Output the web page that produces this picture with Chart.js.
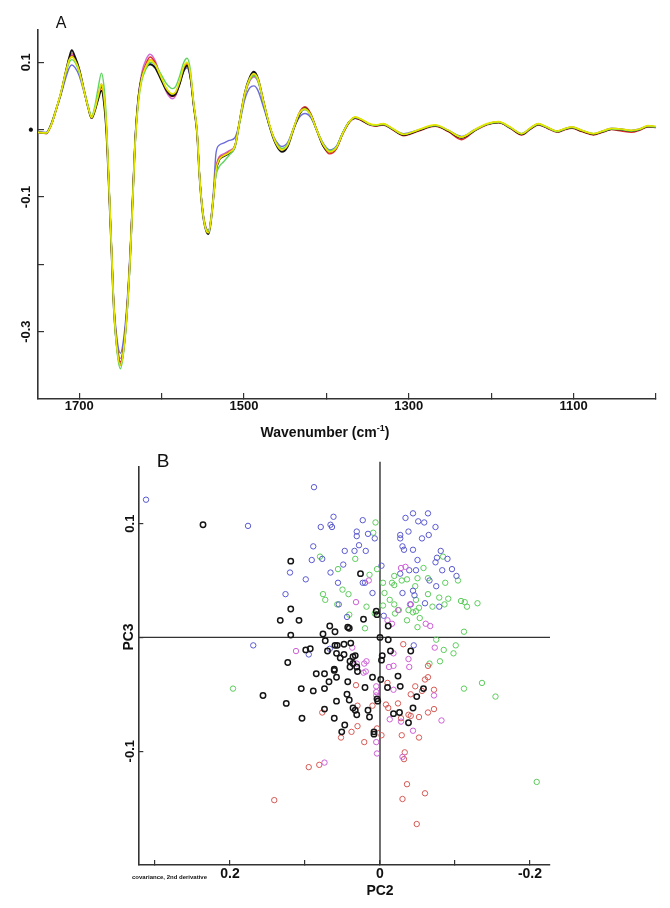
<!DOCTYPE html>
<html><head><meta charset="utf-8">
<script src="https://cdn.jsdelivr.net/npm/chart.js@4/dist/chart.umd.min.js"></script>
<style>
html,body{margin:0;padding:0;background:#fff;}
body{width:670px;height:908px;position:relative;overflow:hidden;}
#ca{position:absolute;left:0;top:0;}
#cb{position:absolute;left:0;top:440px;}
</style></head><body>
<canvas id="ca" width="670" height="440" style="width:670px;height:440px"></canvas>
<canvas id="cb" width="670" height="468" style="width:670px;height:468px"></canvas>
<script>
// ---------- Panel A data ----------
const wavenumbers = [
1750,1740,1734,1728,1722,1716,1712,1709,1705,1700,
1694,1689,1685,1681,1677,1673,1670,1667,1664,1661,
1658,1654,1650,1646,1642,1638,1635,1632,1628,1624,
1619,1614,1608,1601,1595,1590,1587,1583,1578,1573,
1569,1565,1561,1557,1554,1550,1546,1543,1540,1537,
1534,1530,1525,1518,1511,1505,1499,1493,1488,1483,
1476,1469,1462,1454,1447,1440,1433,1426,1419,1412,
1404,1396,1388,1380,1372,1365,1357,1348,1340,1331,
1320,1306,1290,1268,1252,1236,1220,1205,1191,1177,
1163,1153,1143,1132,1120,1110,1102,1090,1076,1065,
1054,1042,1030,1020,1010,1000];

const spectrumBlack = [
-0.004,-0.005,0.008,0.030,0.055,0.088,0.108,0.118,0.108,0.090,
0.058,0.032,0.017,0.028,0.045,0.058,0.040,-0.005,-0.085,-0.175,
-0.265,-0.325,-0.350,-0.325,-0.270,-0.185,-0.100,-0.015,0.050,0.078,
0.092,0.097,0.092,0.075,0.060,0.052,0.050,0.053,0.068,0.088,
0.095,0.078,0.035,-0.005,-0.070,-0.125,-0.150,-0.155,-0.135,-0.100,
-0.062,-0.045,-0.040,-0.035,-0.025,0.015,0.055,0.078,0.086,0.076,
0.040,0.005,-0.020,-0.033,-0.025,0.000,0.022,0.032,0.022,0.000,
-0.024,-0.033,-0.027,-0.005,0.012,0.018,0.014,0.008,0.006,0.008,
0.001,-0.008,-0.002,0.006,-0.002,-0.012,-0.001,0.008,0.011,0.003,
-0.007,0.001,0.008,0.003,-0.003,0.001,0.003,-0.002,-0.007,-0.003,
0.001,0.000,-0.002,0.000,0.005,0.004];

const spectrumBlue = [
-0.003,-0.004,0.008,0.030,0.052,0.078,0.092,0.096,0.092,0.080,
0.055,0.033,0.018,0.030,0.050,0.066,0.050,0.005,-0.075,-0.165,
-0.255,-0.312,-0.332,-0.310,-0.258,-0.175,-0.095,-0.010,0.050,0.078,
0.092,0.098,0.093,0.077,0.062,0.054,0.052,0.055,0.070,0.087,
0.092,0.075,0.035,-0.003,-0.065,-0.120,-0.146,-0.150,-0.130,-0.090,
-0.035,-0.023,-0.020,-0.016,-0.012,0.012,0.045,0.062,0.065,0.058,
0.032,0.005,-0.015,-0.025,-0.019,0.001,0.018,0.024,0.018,0.000,
-0.020,-0.030,-0.025,-0.004,0.012,0.017,0.014,0.008,0.006,0.008,
0.001,-0.006,-0.001,0.006,-0.001,-0.010,0.000,0.008,0.011,0.003,
-0.006,0.002,0.008,0.003,-0.002,0.002,0.004,-0.001,-0.006,-0.002,
0.002,0.001,-0.001,0.001,0.005,0.004];

const spectrumGreen = [
-0.004,-0.005,0.007,0.030,0.055,0.085,0.100,0.104,0.100,0.085,
0.058,0.035,0.020,0.035,0.062,0.084,0.065,0.015,-0.075,-0.170,
-0.265,-0.330,-0.355,-0.330,-0.275,-0.190,-0.105,-0.020,0.042,0.073,
0.090,0.100,0.097,0.083,0.070,0.063,0.061,0.064,0.080,0.100,
0.106,0.088,0.040,0.000,-0.068,-0.122,-0.148,-0.150,-0.132,-0.100,
-0.068,-0.055,-0.048,-0.038,-0.026,0.012,0.052,0.074,0.080,0.072,
0.038,0.006,-0.017,-0.028,-0.021,0.002,0.024,0.030,0.021,0.001,
-0.021,-0.031,-0.026,-0.004,0.012,0.018,0.015,0.008,0.006,0.008,
0.001,-0.007,-0.001,0.006,-0.001,-0.011,-0.001,0.008,0.011,0.003,
-0.006,0.001,0.008,0.003,-0.003,0.001,0.003,-0.001,-0.006,-0.003,
0.001,0.000,-0.002,0.000,0.005,0.004];

const spectrumRed = [
-0.004,-0.006,0.006,0.029,0.055,0.086,0.104,0.110,0.104,0.088,
0.057,0.032,0.017,0.028,0.047,0.063,0.045,0.000,-0.082,-0.172,
-0.262,-0.322,-0.345,-0.322,-0.268,-0.183,-0.100,-0.015,0.048,0.080,
0.098,0.108,0.100,0.078,0.060,0.051,0.049,0.052,0.070,0.092,
0.098,0.080,0.036,-0.004,-0.068,-0.123,-0.148,-0.152,-0.133,-0.098,
-0.058,-0.042,-0.038,-0.033,-0.024,0.014,0.053,0.074,0.080,0.073,
0.039,0.006,-0.018,-0.029,-0.022,0.002,0.025,0.034,0.024,0.001,
-0.024,-0.036,-0.029,-0.006,0.011,0.017,0.013,0.007,0.005,0.007,
0.000,-0.009,-0.003,0.005,-0.003,-0.015,-0.002,0.007,0.010,0.002,
-0.008,0.000,0.007,0.002,-0.004,0.000,0.002,-0.003,-0.008,-0.004,
0.000,-0.002,-0.004,-0.001,0.004,0.003];

const spectrumMagenta = [
-0.004,-0.005,0.007,0.030,0.055,0.086,0.106,0.112,0.106,0.090,
0.058,0.033,0.018,0.030,0.050,0.068,0.050,0.003,-0.080,-0.170,
-0.258,-0.318,-0.340,-0.318,-0.265,-0.180,-0.098,-0.012,0.052,0.085,
0.104,0.112,0.103,0.078,0.058,0.048,0.046,0.050,0.068,0.088,
0.093,0.076,0.034,-0.004,-0.067,-0.121,-0.146,-0.150,-0.131,-0.096,
-0.056,-0.040,-0.036,-0.031,-0.023,0.014,0.052,0.072,0.078,0.071,
0.038,0.006,-0.018,-0.030,-0.023,0.001,0.023,0.030,0.022,0.000,
-0.022,-0.033,-0.027,-0.005,0.012,0.017,0.014,0.008,0.006,0.008,
0.001,-0.008,-0.002,0.006,-0.002,-0.012,-0.001,0.008,0.011,0.003,
-0.007,0.001,0.008,0.003,-0.003,0.001,0.003,-0.002,-0.007,-0.003,
0.001,0.000,-0.002,0.000,0.005,0.004];

const spectrumOrange = [
-0.004,-0.005,0.007,0.030,0.056,0.088,0.107,0.113,0.106,0.089,
0.057,0.032,0.017,0.029,0.048,0.064,0.046,0.001,-0.082,-0.172,
-0.262,-0.323,-0.347,-0.323,-0.268,-0.183,-0.101,-0.016,0.047,0.078,
0.096,0.104,0.098,0.078,0.061,0.053,0.051,0.054,0.070,0.092,
0.098,0.080,0.036,-0.004,-0.069,-0.124,-0.149,-0.153,-0.134,-0.099,
-0.060,-0.043,-0.039,-0.034,-0.024,0.015,0.054,0.075,0.082,0.074,
0.040,0.007,-0.018,-0.030,-0.023,0.001,0.023,0.031,0.022,0.000,
-0.022,-0.033,-0.027,-0.005,0.012,0.018,0.014,0.008,0.006,0.008,
0.001,-0.008,-0.002,0.006,-0.002,-0.012,-0.001,0.008,0.011,0.003,
-0.007,0.001,0.008,0.003,-0.003,0.001,0.003,-0.002,-0.007,-0.003,
0.001,0.000,-0.002,0.000,0.005,0.004];

const spectrumYellow = [
-0.004,-0.005,0.007,0.030,0.056,0.087,0.104,0.108,0.103,0.088,
0.057,0.032,0.018,0.030,0.050,0.068,0.050,0.004,-0.080,-0.170,
-0.262,-0.325,-0.350,-0.325,-0.270,-0.184,-0.102,-0.017,0.046,0.077,
0.094,0.103,0.097,0.079,0.063,0.055,0.053,0.056,0.072,0.094,
0.100,0.082,0.037,-0.003,-0.068,-0.123,-0.149,-0.153,-0.134,-0.099,
-0.060,-0.044,-0.039,-0.034,-0.024,0.015,0.054,0.076,0.083,0.075,
0.040,0.007,-0.018,-0.030,-0.023,0.001,0.024,0.031,0.022,0.000,
-0.022,-0.033,-0.027,-0.005,0.012,0.019,0.015,0.009,0.007,0.009,
0.002,-0.007,-0.001,0.007,-0.001,-0.011,0.000,0.009,0.012,0.004,
-0.006,0.002,0.009,0.004,-0.002,0.002,0.004,-0.001,-0.006,-0.002,
0.002,0.001,-0.001,0.001,0.006,0.005];

const xTicksA = [1700,1600,1500,1400,1300,1200,1100,1000];
const xTickLabelsA = ['1700','','1500','','1300','','1100',''];
const yTicksA = [0.1,0,-0.1,-0.2,-0.3];
const yTickLabelsA = ['0.1','\u2022','-0.1','','-0.3'];

// ---------- Panel B data (PC2, PC3 scores) ----------
const blackPC2 = [0.236,0.119,0.119,0.133,0.108,0.067,0.060,0.076,0.119,0.043,0.041,0.026,0.005,0.004,0.022,-0.011,0.093,0.099,0.073,0.070,0.123,0.058,0.060,0.057,0.048,0.039,0.053,0.048,0.040,0.036,0.033,0.061,0.061,0.040,0.036,0.031,0.030,0.085,0.074,0.058,0.068,0.043,0.105,0.089,0.074,0.156,0.125,0.058,0.044,0.041,0.074,0.036,0.033,0.031,0.104,0.061,0.047,0.051,-0.011,-0.014,-0.003,-0.002,-0.041,-0.001,-0.024,-0.027,-0.010,0.010,0.020,0.004,0.003,-0.058,-0.049,-0.044,-0.018,-0.026,-0.038,0.016,0.014,0.008,0.008,0];
const blackPC3 = [0.099,0.067,0.025,0.015,0.015,0.010,0.005,0.003,0.002,0.009,0.008,0.056,0.023,0.020,0.016,0.010,-0.010,-0.011,-0.003,-0.012,-0.022,-0.014,-0.007,-0.007,-0.006,-0.005,-0.018,-0.015,-0.021,-0.017,-0.016,-0.028,-0.029,-0.026,-0.023,-0.026,-0.030,-0.032,-0.032,-0.035,-0.039,-0.039,-0.045,-0.047,-0.045,-0.051,-0.058,-0.056,-0.050,-0.055,-0.063,-0.062,-0.064,-0.068,-0.071,-0.071,-0.077,-0.083,-0.002,-0.012,-0.016,-0.020,-0.012,-0.037,-0.034,-0.043,-0.044,-0.035,-0.044,-0.054,-0.056,-0.045,-0.052,-0.062,-0.067,-0.066,-0.075,-0.064,-0.070,-0.083,-0.085,0];

const bluePC2 = [0.312,0.176,0.088,0.062,0.079,0.066,0.064,0.089,0.091,0.077,0.120,0.099,0.126,0.066,0.056,0.049,0.047,0.034,0.028,0.031,0.031,0.044,0.055,0.016,0.007,0.023,0.019,0.023,0.020,0.010,-0.002,-0.027,-0.027,-0.034,-0.044,-0.064,-0.051,-0.059,-0.074,-0.038,-0.065,-0.056,-0.030,-0.032,-0.044,-0.081,-0.076,-0.074,-0.090,-0.050,-0.039,-0.048,-0.027,-0.083,-0.096,-0.102,-0.066,-0.075,-0.030,-0.044,-0.046,-0.041,-0.060,-0.079,-0.005,0.169,0.095,0.067,-0.045];
const bluePC3 = [0.121,0.098,0.132,0.106,0.097,0.099,0.097,0.080,0.068,0.069,0.057,0.051,0.038,0.057,0.048,0.064,0.076,0.076,0.081,0.093,0.089,0.018,0.029,0.091,0.087,0.103,0.076,0.048,0.048,0.039,0.063,0.090,0.087,0.105,0.109,0.109,0.102,0.101,0.097,0.093,0.090,0.087,0.080,0.077,0.077,0.076,0.070,0.066,0.069,0.068,0.059,0.059,0.056,0.059,0.060,0.054,0.050,0.045,0.039,0.041,0.037,0.029,0.030,0.027,0.019,-0.007,-0.015,-0.010,-0.007];

const greenPC2 = [0.080,0.033,0.056,0.050,0.042,0.076,0.073,0.057,0.041,0.009,0.006,0.014,0.018,0.007,0.004,-0.084,-0.058,-0.019,-0.029,-0.004,-0.016,-0.019,-0.036,-0.050,-0.064,-0.087,-0.104,-0.047,-0.006,-0.064,-0.079,-0.091,-0.108,-0.113,-0.116,-0.130,-0.086,-0.070,-0.013,-0.019,-0.004,-0.038,-0.044,-0.048,-0.052,-0.053,-0.036,-0.020,-0.024,-0.050,-0.112,-0.048,0.020,0.196,-0.085,-0.101,-0.098,-0.080,-0.066,-0.075,-0.136,-0.112,-0.154,-0.209];
const greenPC3 = [0.071,0.069,0.060,0.042,0.038,0.038,0.033,0.029,0.020,0.092,0.101,0.055,0.027,0.021,0.060,0.071,0.061,0.054,0.050,0.048,0.048,0.046,0.051,0.052,0.052,0.048,0.050,0.045,0.039,0.038,0.035,0.034,0.032,0.031,0.027,0.030,0.029,0.027,0.033,0.029,0.028,0.024,0.022,0.023,0.026,0.017,0.015,0.021,0.024,0.009,0.005,0.033,0.008,-0.045,-0.011,-0.007,-0.014,-0.021,-0.023,-0.002,-0.040,-0.045,-0.052,-0.127];

const magentaPC2 = [0.032,0.015,-0.028,-0.034,-0.040,-0.025,-0.061,-0.067,-0.016,-0.010,0.112,0.037,0.031,0.074,-0.073,-0.018,-0.038,-0.039,-0.012,-0.018,0.018,0.021,0.022,0.019,0.005,0.005,0.005,-0.018,-0.072,-0.013,-0.028,-0.044,-0.082,0.005,0.004,-0.030];
const magentaPC3 = [0.031,0.050,0.061,0.062,0.029,0.024,0.012,0.010,0.012,0.015,-0.012,-0.009,-0.023,-0.110,-0.009,-0.014,-0.019,-0.026,-0.026,-0.025,-0.021,-0.023,-0.031,-0.030,-0.043,-0.048,-0.051,-0.046,-0.051,-0.072,-0.074,-0.082,-0.073,-0.092,-0.102,-0.105];

const redPC2 = [0.032,0.030,0.077,0.030,0.038,0.052,0.141,0.095,0.081,-0.031,-0.064,-0.010,-0.060,-0.064,-0.047,-0.041,-0.056,-0.072,-0.008,-0.011,0.010,-0.024,-0.072,-0.064,-0.028,-0.038,-0.041,-0.052,0.004,-0.002,-0.029,-0.052,0.021,-0.033,-0.036,-0.060,-0.030,-0.049,-0.032];
const redPC3 = [-0.042,-0.060,-0.066,-0.078,-0.083,-0.088,-0.143,-0.114,-0.112,-0.006,-0.025,-0.040,-0.037,-0.035,-0.043,-0.050,-0.047,-0.046,-0.059,-0.062,-0.060,-0.058,-0.063,-0.066,-0.071,-0.068,-0.069,-0.070,-0.080,-0.086,-0.086,-0.088,-0.092,-0.101,-0.129,-0.137,-0.142,-0.164,-0.107];

const xTicksB = [0.3,0.2,0.1,0,-0.1,-0.2];
const xTickLabelsB = ['','0.2','','0','','-0.2'];
const yTicksB = [0.1,0,-0.1];
const yTickLabelsB = ['0.1','','-0.1'];

const panelLetters = ['A','B'];
const FONT = "'Liberation Sans', Arial, Helvetica, sans-serif";
const AXIS = '#333';

// ---------- Panel A ----------
const specSeries = [
  {data: spectrumYellow, color:'#e6e600', w:1.7},
  {data: spectrumGreen, color:'#5fd45f', w:1.4},
  {data: spectrumBlack, color:'#111111', w:1.8},
  {data: spectrumRed, color:'#e02a2a', w:1.4},
  {data: spectrumBlue, color:'#6b6bdc', w:1.4},
  {data: spectrumMagenta, color:'#cf6ad9', w:1.4},
  {data: spectrumOrange, color:'#ff9a1a', w:1.4}
];

function rotLabels(chart, ticksLabels, baseX, font){
  const ctx = chart.ctx, y = chart.scales.y;
  y.ticks.forEach((t,i)=>{
    const lab = ticksLabels[i]; if(!lab) return;
    const py = y.getPixelForValue(t.value);
    ctx.save();
    if(lab === '\u2022'){ ctx.font = 'bold 15px '+FONT; ctx.textBaseline='middle'; ctx.translate(baseX+1.5, py); }
    else { ctx.font = font; ctx.textBaseline='alphabetic'; ctx.translate(baseX, py); }
    ctx.rotate(-Math.PI/2);
    ctx.textAlign='center';
    ctx.fillStyle='#111';
    ctx.fillText(lab,0,0);
    ctx.restore();
  });
}

const textA = {
  id:'textA',
  afterDraw(chart){
    const ctx = chart.ctx;
    rotLabels(chart, yTickLabelsA, 30, 'bold 13px '+FONT);
    ctx.save();
    ctx.fillStyle='#111';
    ctx.font='16px '+FONT; ctx.textAlign='center'; ctx.textBaseline='middle';
    ctx.fillText(panelLetters[0], 61, 24);
    const main='Wavenumber (cm', sup='-1', end=')';
    ctx.font='bold 14px '+FONT;
    const w1=ctx.measureText(main).width, w3=ctx.measureText(end).width;
    ctx.font='bold 9px '+FONT;
    const w2=ctx.measureText(sup).width;
    let x = 325 - (w1+w2+w3)/2, base = 436.5;
    ctx.textAlign='left'; ctx.textBaseline='alphabetic';
    ctx.font='bold 14px '+FONT; ctx.fillText(main, x, base); x+=w1;
    ctx.font='bold 9px '+FONT; ctx.fillText(sup, x, base-6); x+=w2;
    ctx.font='bold 14px '+FONT; ctx.fillText(end, x, base);
    ctx.restore();
  }
};

new Chart(document.getElementById('ca'), {
  type:'line',
  data:{ datasets: specSeries.map(s=>({
    data: wavenumbers.map((w,i)=>({x:w, y:s.data[i]})),
    borderColor:s.color, borderWidth:s.w, pointRadius:0, fill:false,
    cubicInterpolationMode:'monotone'
  }))},
  options:{
    responsive:false, devicePixelRatio:1, animation:false, events:[],
    layout:{padding:{top:30,right:14,left:0,bottom:0}},
    plugins:{legend:{display:false}, tooltip:{enabled:false}},
    scales:{
      x:{type:'linear', reverse:true, min:1000, max:1750,
        afterBuildTicks:s=>{ s.ticks = xTicksA.map(v=>({value:v})); },
        afterFit:s=>{ s.height = 41; },
        border:{display:true, color:AXIS, width:1.6},
        grid:{drawOnChartArea:false, drawTicks:true, tickLength:-6, color:AXIS, lineWidth:1.2},
        ticks:{autoSkip:false, maxRotation:0, minRotation:0, padding:6, color:'#111',
          font:{family:FONT, size:13, weight:'bold'},
          callback:(v,i)=>xTickLabelsA[i]}
      },
      y:{type:'linear', min:-0.4, max:0.148,
        afterBuildTicks:s=>{ s.ticks = yTicksA.map(v=>({value:v})); },
        afterFit:s=>{ s.width = 38; },
        border:{display:true, color:AXIS, width:1.6},
        grid:{drawOnChartArea:false, drawTicks:true, tickLength:-6, color:AXIS, lineWidth:1.2},
        ticks:{display:false}
      }
    }
  },
  plugins:[textA]
});

// ---------- Panel B ----------
const textB = {
  id:'textB',
  beforeDatasetsDraw(chart){
    const {ctx, chartArea:a, scales:{x,y}} = chart;
    const x0=x.getPixelForValue(0), y0=y.getPixelForValue(0);
    ctx.save(); ctx.strokeStyle='#333'; ctx.lineWidth=1.4;
    ctx.beginPath(); ctx.moveTo(a.left,y0); ctx.lineTo(a.right,y0);
    ctx.moveTo(x0,a.top-5); ctx.lineTo(x0,a.bottom); ctx.stroke(); ctx.restore();
  },
  afterDraw(chart){
    const ctx = chart.ctx;
    rotLabels(chart, yTickLabelsB, 133.5, 'bold 13px '+FONT);
    ctx.save(); ctx.fillStyle='#111';
    ctx.font='19px '+FONT; ctx.textAlign='center'; ctx.textBaseline='middle';
    ctx.fillText(panelLetters[1], 163, 22);
    ctx.font='bold 14px '+FONT; ctx.textBaseline='middle';
    ctx.fillText('PC2', 380, 451);
    ctx.save(); ctx.translate(133,197); ctx.rotate(-Math.PI/2); ctx.textBaseline='alphabetic';
    ctx.fillText('PC3',0,0); ctx.restore();
    ctx.font='bold 6px '+FONT; ctx.textAlign='center';
    ctx.fillText('covariance, 2nd derivative', 169.5, 437.7);
    ctx.restore();
  }
};

function grp(p2,p3){ return p2.map((v,i)=>({x:v, y:p3[i]})); }
const groups = [
  {d:grp(blackPC2,blackPC3), c:'#151515', w:1.5},
  {d:grp(magentaPC2,magentaPC3), c:'#cf5fd8', w:1},
  {d:grp(redPC2,redPC3), c:'#d65a55', w:1},
  {d:grp(bluePC2,bluePC3), c:'#5a5ad0', w:1},
  {d:grp(greenPC2,greenPC3), c:'#5ccc5c', w:1}
];

new Chart(document.getElementById('cb'), {
  type:'scatter',
  data:{ datasets: groups.map(g=>({data:g.d, borderColor:g.c, backgroundColor:'rgba(0,0,0,0)',
    pointRadius:2.7, pointBorderWidth:g.w, pointStyle:'circle'})) },
  options:{
    responsive:false, devicePixelRatio:1, animation:false, events:[],
    layout:{padding:{top:26.7,right:120,left:0,bottom:0}},
    plugins:{legend:{display:false}, tooltip:{enabled:false}},
    scales:{
      x:{type:'linear', reverse:true, min:-0.2267, max:0.3223,
        afterBuildTicks:s=>{ s.ticks = xTicksB.map(v=>({value:v})); },
        afterFit:s=>{ s.height = 43; },
        border:{display:true, color:AXIS, width:1.6},
        grid:{drawOnChartArea:false, drawTicks:true, tickLength:-5, color:AXIS, lineWidth:1.2},
        ticks:{autoSkip:false, maxRotation:0, minRotation:0, padding:6, color:'#111',
          font:{family:FONT, size:14, weight:'bold'},
          callback:(v,i)=>xTickLabelsB[i]}
      },
      y:{type:'linear', min:-0.2, max:0.15,
        afterBuildTicks:s=>{ s.ticks = yTicksB.map(v=>({value:v})); },
        afterFit:s=>{ s.width = 138.3; },
        border:{display:true, color:AXIS, width:1.6},
        grid:{drawOnChartArea:false, drawTicks:true, tickLength:-5, color:AXIS, lineWidth:1.2},
        ticks:{display:false}
      }
    }
  },
  plugins:[textB]
});
</script></body></html>
